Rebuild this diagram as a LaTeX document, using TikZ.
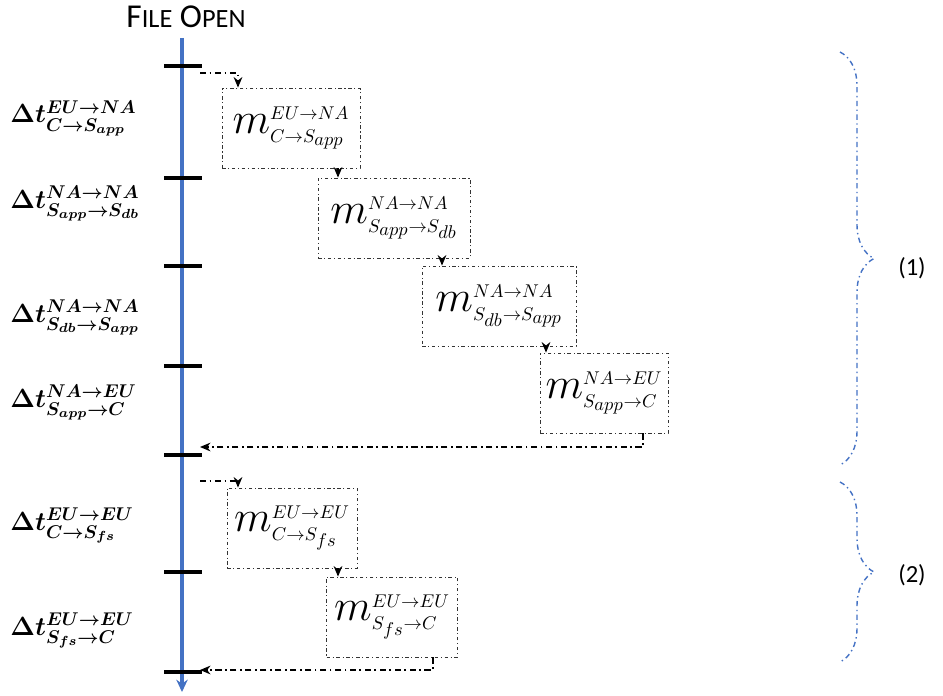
\RequirePackage{fix-cm}
\documentclass[tikz,border=0pt]{standalone}
\usepackage{fontspec}
\newfontfamily\calfont{Carlito}
\usetikzlibrary{decorations.pathreplacing,arrows.meta}
\definecolor{lineblue}{RGB}{68,114,196}
\newcommand{\dtlbl}[2]{$\Delta t^{#1}_{#2}$}
\newcommand{\mlbl}[2]{${\mbox{\fontsize{25}{30}\selectfont$m$}}^{\scriptscriptstyle #1}_{\scriptscriptstyle #2}$}
\newcommand{\smc}[1]{{\fontsize{15}{17}\selectfont #1}}
\tikzset{
  tline/.style={draw=lineblue, line width=2.2pt, -{Stealth[length=7pt,width=6.5pt]}},
  tickmark/.style={line width=2pt},
  flow/.style={line width=0.8pt, dash pattern=on 3.5pt off 2pt on 1pt off 2pt},
  msgbox/.style={draw=black!80, line width=0.5pt,
    dash pattern=on 2pt off 1.5pt on 0.6pt off 1.5pt,
    minimum height=1.6cm, inner sep=0pt, font=\fontsize{21}{25}\selectfont},
  dtnode/.style={anchor=base west, inner sep=0pt, font=\fontsize{15}{18}\selectfont\boldmath},
  bracket/.style={draw=lineblue, line width=0.8pt,
    dash pattern=on 3pt off 2pt on 0.8pt off 2pt,
    decorate, decoration={brace, amplitude=0.68cm}},
  grouplbl/.style={font=\calfont\fontsize{14}{16}\selectfont},
}
\begin{document}
\begin{tikzpicture}[x=0.02cm, y=-0.02cm, >={Stealth[length=6pt,width=5pt]}]
  \useasboundingbox (0,0) rectangle (943,696);
  % 時間軸
  \node[font=\calfont\fontsize{19}{22}\selectfont] (title) at (186,17) {F\smc{ILE} O\smc{PEN}};
  \draw[tline] (182,38) -- (182,692);
  \foreach \y [count=\i] in {66,178,266,366,455,572,672} {
    \coordinate (t\i) at (182,\y);
    \draw[tickmark] (164,\y) -- (202,\y);
  }
  % 区間ラベル
  \node[dtnode] (d1) at (10,123) {\dtlbl{EU\to NA}{C\to S_{app}}};
  \node[dtnode] (d2) at (10,208) {\dtlbl{NA\to NA}{S_{app}\to S_{db}}};
  \node[dtnode] (d3) at (10,322) {\dtlbl{NA\to NA}{S_{db}\to S_{app}}};
  \node[dtnode] (d4) at (10,407) {\dtlbl{NA\to EU}{S_{app}\to C}};
  \node[dtnode] (d5) at (10,530) {\dtlbl{EU\to EU}{C\to S_{fs}}};
  \node[dtnode] (d6) at (10,635) {\dtlbl{EU\to EU}{S_{fs}\to C}};
  % メッセージ
  \node[msgbox, minimum width=2.76cm] (m1) at (291,128) {\mlbl{EU\to NA}{C\to S_{app}}};
  \node[msgbox, minimum width=3.04cm] (m2) at (394,218) {\mlbl{NA\to NA}{S_{app}\to S_{db}}};
  \node[msgbox, minimum width=3.08cm] (m3) at (499,306) {\mlbl{NA\to NA}{S_{db}\to S_{app}}};
  \node[msgbox, minimum width=2.56cm] (m4) at (604,393) {\mlbl{NA\to EU}{S_{app}\to C}};
  \node[msgbox, minimum width=2.60cm] (m5) at (292,528) {\mlbl{EU\to EU}{C\to S_{fs}}};
  \node[msgbox, minimum width=2.62cm] (m6) at (392,617) {\mlbl{EU\to EU}{S_{fs}\to C}};
  % 矢印
  \coordinate (s1) at (200,73);
  \coordinate (s5) at (200,481);
  \coordinate (in1) at (238,88);
  \coordinate (in2) at (338,178);
  \coordinate (in3) at (442,266);
  \coordinate (in4) at (546,353);
  \coordinate (in5) at (238,488);
  \coordinate (in6) at (338,577);
  \coordinate (o4) at (643,447);
  \coordinate (o6) at (433,670);
  \coordinate (r1) at (200,447);
  \coordinate (r2) at (200,670);
  \draw[flow, ->] (s1) -| (in1 |- m1.north);
  \draw[flow, ->] (in2 |- m1.south) -- (in2 |- m2.north);
  \draw[flow, ->] (in3 |- m2.south) -- (in3 |- m3.north);
  \draw[flow, ->] (in4 |- m3.south) -- (in4 |- m4.north);
  \draw[flow, ->] (o4 |- m4.south) |- (r1);
  \draw[flow, ->] (s5) -| (in5 |- m5.north);
  \draw[flow, ->] (in6 |- m5.south) -- (in6 |- m6.north);
  \draw[flow, ->] (o6 |- m6.south) |- (r2);
  % 括弧
  \draw[bracket] (840,52) -- (840,465);
  \draw[bracket] (840,482) -- (840,662);
  \node[grouplbl] (p1) at (912,268) {(1)};
  \node[grouplbl] (p2) at (912,575) {(2)};
\end{tikzpicture}
\end{document}
